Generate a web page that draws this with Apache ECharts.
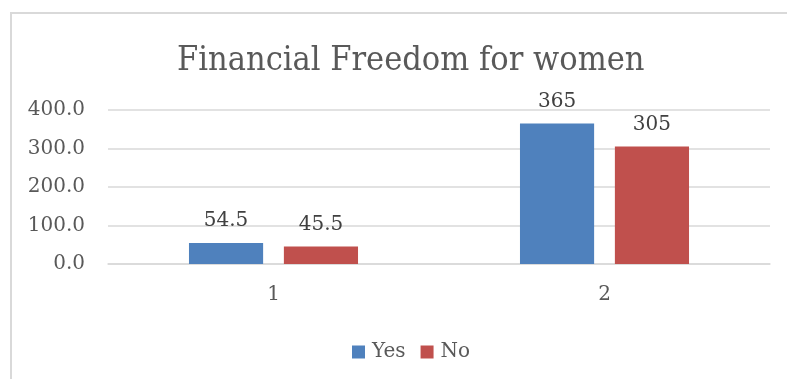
<!DOCTYPE html>
<html><head><meta charset="utf-8">
<script src="https://cdn.jsdelivr.net/npm/echarts@6/dist/echarts.min.js"></script>
<style>html,body{margin:0;padding:0;background:#fff}#c{width:787px;height:379px}</style>
</head><body><div id="c"></div>
<script>
const categories = ['1', '2'];
const yesValues = [54.5, 365];
const noValues = [45.5, 305];
const seriesNames = ['Yes', 'No'];
const yTicks = [0, 100, 200, 300, 400];

const font = '"DejaVu Serif", "Liberation Serif", serif';
const titleFont = '"DejaVu Serif Condensed", "DejaVu Serif", serif';
const txt = '#595959';
const chart = echarts.init(document.getElementById('c'), null, {renderer: 'canvas'});
chart.setOption({
  animation: false,
  backgroundColor: '#fff',
  graphic: [{type: 'rect', shape: {x: 11, y: 13, width: 800, height: 400}, style: {fill: 'none', stroke: '#d9d9d9', lineWidth: 2}}],
  title: {text: 'Financial Freedom for women', left: 172, top: 39,
    textStyle: {fontFamily: titleFont, fontWeight: 'normal', fontSize: 34, color: txt}},
  grid: {left: 108, right: 17, top: 110, bottom: 115},
  legend: {top: 337, left: 347, itemWidth: 13, itemHeight: 13, itemGap: 15, icon: 'rect',
    textStyle: {fontFamily: font, fontSize: 20, color: txt, padding: [0, 0, 0, 2]},
    data: seriesNames},
  xAxis: {type: 'category', data: categories,
    axisLine: {lineStyle: {color: '#d9d9d9', width: 1.5}}, axisTick: {show: false},
    axisLabel: {fontFamily: font, fontSize: 20, color: txt, margin: 21}},
  yAxis: {type: 'value', min: yTicks[0], max: yTicks[yTicks.length - 1], interval: 100,
    axisLine: {show: false}, axisTick: {show: false},
    splitLine: {lineStyle: {color: '#d9d9d9', width: 1.5}},
    axisLabel: {fontFamily: font, fontSize: 20, color: txt, margin: 23, formatter: v => v.toFixed(1)}},
  series: [
    {name: seriesNames[0], type: 'bar', data: yesValues, barWidth: '22.4%', barGap: '28%',
      itemStyle: {color: '#4f81bd'},
      label: {show: true, position: 'top', distance: 12, fontFamily: font, fontSize: 20, color: '#404040'}},
    {name: seriesNames[1], type: 'bar', data: noValues, barWidth: '22.4%', barGap: '28%',
      itemStyle: {color: '#c0504d'},
      label: {show: true, position: 'top', distance: 12, fontFamily: font, fontSize: 20, color: '#404040'}}
  ]
});
</script></body></html>
